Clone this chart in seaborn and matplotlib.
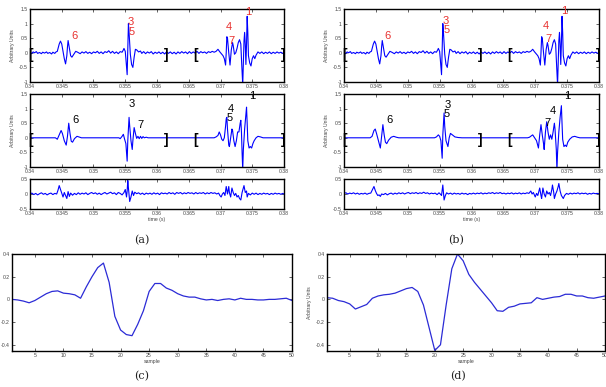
import numpy as np
import pandas as pd
import matplotlib
matplotlib.use("Agg")
import matplotlib.pyplot as plt
import seaborn as sns

# --------------------------
# data
# --------------------------
# measured signal (top row, same in (a) and (b))
measured = [
    (0.3400, 0.02), (0.3402, -0.03), (0.3405, 0.03), (0.3407, 0.00), (0.3410, 0.04),
    (0.3412, -0.02), (0.3415, 0.01), (0.3418, -0.03), (0.3420, 0.02), (0.3423, -0.01),
    (0.3426, 0.03), (0.3428, -0.02), (0.3431, 0.01), (0.3434, -0.04), (0.3436, 0.02),
    (0.3439, -0.02), (0.3441, 0.03), (0.3443, 0.05), (0.3446, 0.30), (0.3448, 0.40),
    (0.3450, 0.30), (0.3452, 0.05), (0.3454, -0.20), (0.3456, -0.38), (0.3458, -0.10),
    (0.3459, 0.20), (0.3460, 0.42), (0.3462, 0.15), (0.3464, -0.10), (0.3466, -0.15),
    (0.3469, -0.05), (0.3472, 0.05), (0.3475, 0.02), (0.3479, -0.03), (0.3482, 0.03),
    (0.3485, -0.01), (0.3488, 0.04), (0.3491, -0.02), (0.3494, 0.02), (0.3497, -0.03),
    (0.3500, 0.03), (0.3503, 0.00), (0.3506, 0.05), (0.3509, -0.02), (0.3512, 0.03),
    (0.3515, -0.03), (0.3518, 0.04), (0.3521, 0.01), (0.3524, 0.07), (0.3527, -0.01),
    (0.3530, 0.05), (0.3533, -0.02), (0.3536, 0.03), (0.3539, -0.03), (0.3542, 0.04),
    (0.3545, 0.02), (0.3547, 0.10), (0.3548, 0.15), (0.3550, 0.05), (0.3551, -0.20),
    (0.3553, -0.75), (0.3554, 0.10), (0.3555, 1.00), (0.3556, 0.70), (0.3558, -0.05),
    (0.3560, -0.40), (0.3562, -0.50), (0.3564, -0.15), (0.3566, 0.12), (0.3568, 0.10),
    (0.3571, 0.03), (0.3574, 0.06), (0.3576, -0.02), (0.3579, 0.04), (0.3582, -0.03),
    (0.3585, 0.03), (0.3588, -0.01), (0.3591, 0.04), (0.3594, -0.04), (0.3597, 0.02),
    (0.3600, -0.02), (0.3603, 0.03), (0.3606, -0.03), (0.3609, 0.02), (0.3612, -0.04),
    (0.3615, 0.03), (0.3618, -0.02), (0.3621, 0.03), (0.3624, -0.03), (0.3627, 0.02),
    (0.3630, -0.04), (0.3633, 0.03), (0.3636, -0.02), (0.3639, 0.04), (0.3642, -0.01),
    (0.3645, 0.03), (0.3648, -0.03), (0.3651, 0.04), (0.3654, -0.02), (0.3657, 0.03),
    (0.3660, -0.01), (0.3663, 0.05), (0.3666, -0.02), (0.3669, 0.04), (0.3672, 0.00),
    (0.3675, 0.03), (0.3678, -0.02), (0.3681, 0.04), (0.3684, 0.01), (0.3687, 0.05),
    (0.3690, 0.02), (0.3693, 0.05), (0.3696, 0.12), (0.3699, 0.03), (0.3702, -0.05),
    (0.3704, -0.10), (0.3706, -0.20), (0.3708, -0.42), (0.3709, 0.00), (0.3710, 0.55),
    (0.3711, 0.50), (0.3713, 0.00), (0.3715, -0.42), (0.3717, 0.10), (0.3719, 0.35),
    (0.3720, 0.25), (0.3722, -0.05), (0.3724, 0.00), (0.3726, 0.15), (0.3728, 0.35),
    (0.3730, 0.45), (0.3732, 0.30), (0.3733, -0.20), (0.3735, -1.10), (0.3736, -0.30),
    (0.3737, 0.40), (0.3738, 0.70), (0.3739, 0.30), (0.3740, -0.40), (0.3741, 0.30),
    (0.3742, 1.25), (0.3743, 0.70), (0.3744, -0.10), (0.3746, -0.35), (0.3748, -0.45),
    (0.3750, -0.20), (0.3752, -0.10), (0.3754, -0.20), (0.3756, -0.08), (0.3759, 0.03),
    (0.3762, -0.02), (0.3765, 0.03), (0.3768, -0.03), (0.3771, 0.02), (0.3774, -0.02),
    (0.3777, 0.03), (0.3780, -0.03), (0.3783, 0.02), (0.3786, -0.02), (0.3789, 0.03),
    (0.3792, -0.01), (0.3795, 0.02), (0.3798, -0.02), (0.3800, 0.01),
]

# model signal, panel (a)
model_a = [
    (0.3400, 0.00), (0.3440, 0.00), (0.3443, -0.05), (0.3446, 0.10), (0.3449, 0.25),
    (0.3451, 0.15), (0.3454, -0.10), (0.3457, -0.25), (0.3459, 0.05), (0.3461, 0.50),
    (0.3463, 0.15), (0.3465, -0.12), (0.3467, -0.15), (0.3470, -0.03), (0.3474, 0.05),
    (0.3477, 0.03), (0.3481, 0.00), (0.3540, 0.00), (0.3542, -0.03), (0.3545, 0.05),
    (0.3547, 0.12), (0.3549, -0.05), (0.3551, -0.20), (0.3553, -0.80), (0.3554, -0.10),
    (0.3556, 0.70), (0.3557, 0.40), (0.3559, -0.10), (0.3561, -0.40), (0.3562, -0.10),
    (0.3564, 0.35), (0.3566, 0.15), (0.3568, -0.02), (0.3570, 0.05), (0.3572, -0.03),
    (0.3574, 0.05), (0.3576, -0.02), (0.3578, 0.04), (0.3580, 0.00), (0.3583, 0.02),
    (0.3586, 0.00), (0.3690, 0.00), (0.3693, 0.03), (0.3696, 0.08), (0.3698, 0.20),
    (0.3700, 0.10), (0.3702, -0.05), (0.3704, -0.10), (0.3706, 0.00), (0.3708, 0.40),
    (0.3709, 0.65), (0.3710, 0.70), (0.3711, 0.30), (0.3713, -0.25), (0.3714, -0.30),
    (0.3716, 0.00), (0.3718, 0.30), (0.3719, 0.25), (0.3721, -0.10), (0.3723, -0.30),
    (0.3725, -0.10), (0.3727, 0.20), (0.3729, 0.20), (0.3731, 0.50), (0.3732, 0.60),
    (0.3733, 0.20), (0.3734, -0.50), (0.3735, -1.10), (0.3736, -0.40), (0.3738, 0.30),
    (0.3740, 0.80), (0.3741, 1.05), (0.3742, 0.50), (0.3743, -0.10), (0.3745, -0.35),
    (0.3747, -0.30), (0.3749, -0.35), (0.3751, -0.20), (0.3753, -0.10), (0.3756, 0.00),
    (0.3759, 0.05), (0.3763, 0.03), (0.3767, 0.00), (0.3800, 0.00),
]

# model signal, panel (b)
model_b = [
    (0.3400, 0.00), (0.3441, 0.00), (0.3444, 0.05), (0.3447, 0.25), (0.3449, 0.30),
    (0.3451, 0.15), (0.3454, -0.10), (0.3457, -0.35), (0.3459, 0.05), (0.3461, 0.45),
    (0.3463, 0.10), (0.3465, -0.15), (0.3467, -0.20), (0.3470, -0.08), (0.3474, 0.02),
    (0.3478, 0.05), (0.3482, 0.02), (0.3486, 0.00), (0.3542, 0.00), (0.3545, 0.03),
    (0.3548, 0.10), (0.3550, 0.05), (0.3552, -0.10), (0.3554, -0.70), (0.3555, 0.10),
    (0.3557, 0.85), (0.3558, 0.40), (0.3560, -0.10), (0.3563, -0.30), (0.3565, 0.00),
    (0.3567, 0.15), (0.3570, 0.10), (0.3574, 0.03), (0.3579, 0.01), (0.3585, 0.00),
    (0.3688, 0.00), (0.3691, 0.02), (0.3694, 0.07), (0.3696, 0.10), (0.3699, 0.00),
    (0.3702, -0.10), (0.3705, -0.35), (0.3707, 0.10), (0.3709, 0.45), (0.3711, 0.10),
    (0.3713, -0.20), (0.3714, -0.40), (0.3716, 0.20), (0.3718, 0.55), (0.3720, 0.20),
    (0.3722, -0.05), (0.3724, 0.10), (0.3726, -0.05), (0.3728, 0.20), (0.3730, 0.50),
    (0.3731, 0.30), (0.3733, -0.40), (0.3734, -1.10), (0.3735, -0.50), (0.3737, 0.20),
    (0.3739, 0.70), (0.3741, 1.10), (0.3742, 0.50), (0.3743, -0.05), (0.3745, -0.30),
    (0.3747, -0.25), (0.3749, -0.30), (0.3751, -0.15), (0.3754, -0.05), (0.3758, 0.03),
    (0.3762, 0.05), (0.3766, 0.02), (0.3770, 0.00), (0.3800, 0.00),
]

# residual, panel (a)
resid_a = [
    (0.3400, 0.00), (0.3403, 0.03), (0.3406, -0.02), (0.3409, 0.02), (0.3412, -0.03),
    (0.3415, 0.01), (0.3418, 0.04), (0.3421, -0.01), (0.3424, 0.02), (0.3427, -0.03),
    (0.3430, 0.01), (0.3433, 0.03), (0.3436, -0.02), (0.3439, 0.02), (0.3442, 0.00),
    (0.3444, 0.12), (0.3446, 0.28), (0.3448, 0.15), (0.3450, 0.02), (0.3452, -0.10),
    (0.3454, 0.05), (0.3456, -0.05), (0.3458, -0.15), (0.3460, 0.08), (0.3462, -0.08),
    (0.3464, 0.03), (0.3467, -0.04), (0.3470, 0.02), (0.3473, -0.02), (0.3476, 0.04),
    (0.3479, -0.01), (0.3482, 0.03), (0.3485, 0.00), (0.3488, 0.04), (0.3491, -0.02),
    (0.3494, 0.02), (0.3497, 0.05), (0.3500, 0.01), (0.3503, 0.04), (0.3506, -0.01),
    (0.3509, 0.03), (0.3512, -0.02), (0.3515, 0.02), (0.3518, 0.05), (0.3521, 0.00),
    (0.3524, 0.03), (0.3527, 0.06), (0.3530, 0.01), (0.3533, 0.04), (0.3536, -0.02),
    (0.3539, 0.05), (0.3542, 0.02), (0.3545, -0.03), (0.3548, 0.05), (0.3550, 0.15),
    (0.3552, -0.10), (0.3553, 0.10), (0.3554, 0.45), (0.3555, 0.20), (0.3557, -0.25),
    (0.3559, -0.10), (0.3561, 0.10), (0.3563, -0.05), (0.3565, 0.06), (0.3568, 0.01),
    (0.3571, 0.04), (0.3574, -0.01), (0.3577, 0.03), (0.3580, -0.02), (0.3583, 0.03),
    (0.3586, 0.00), (0.3589, 0.03), (0.3592, -0.01), (0.3595, 0.04), (0.3598, 0.00),
    (0.3601, 0.03), (0.3604, -0.02), (0.3607, 0.04), (0.3610, 0.01), (0.3613, 0.03),
    (0.3616, 0.00), (0.3619, 0.05), (0.3622, 0.01), (0.3625, 0.04), (0.3628, -0.01),
    (0.3631, 0.05), (0.3634, 0.02), (0.3637, 0.05), (0.3640, 0.00), (0.3643, 0.04),
    (0.3646, 0.01), (0.3649, 0.05), (0.3652, 0.02), (0.3655, 0.04), (0.3658, 0.00),
    (0.3661, 0.05), (0.3664, 0.01), (0.3667, 0.04), (0.3670, 0.02), (0.3673, 0.05),
    (0.3676, 0.00), (0.3679, 0.04), (0.3682, 0.01), (0.3685, 0.05), (0.3688, 0.02),
    (0.3691, 0.04), (0.3694, 0.00), (0.3697, 0.03), (0.3699, -0.05), (0.3701, -0.10),
    (0.3703, 0.00), (0.3705, 0.05), (0.3707, -0.05), (0.3709, 0.25), (0.3711, 0.00),
    (0.3713, 0.25), (0.3714, 0.05), (0.3716, -0.10), (0.3718, 0.20), (0.3720, 0.05),
    (0.3722, -0.05), (0.3724, 0.02), (0.3726, -0.10), (0.3728, -0.05), (0.3730, -0.15),
    (0.3732, -0.20), (0.3734, 0.05), (0.3736, 0.20), (0.3737, 0.28), (0.3739, 0.05),
    (0.3741, 0.10), (0.3742, -0.10), (0.3744, 0.02), (0.3747, -0.03), (0.3750, 0.03),
    (0.3753, -0.01), (0.3756, 0.03), (0.3759, -0.02), (0.3762, 0.02), (0.3765, -0.01),
    (0.3768, 0.03), (0.3771, 0.00), (0.3774, 0.02), (0.3777, -0.02), (0.3780, 0.02),
    (0.3783, -0.01), (0.3786, 0.03), (0.3789, 0.00), (0.3792, 0.02), (0.3795, -0.01),
    (0.3798, 0.02), (0.3800, 0.00),
]

# residual, panel (b)
resid_b = [
    (0.3400, 0.02), (0.3403, 0.04), (0.3406, 0.00), (0.3409, 0.03), (0.3412, 0.01),
    (0.3415, 0.04), (0.3418, 0.00), (0.3421, 0.03), (0.3424, -0.01), (0.3427, 0.02),
    (0.3430, 0.00), (0.3433, 0.03), (0.3436, -0.01), (0.3439, 0.02), (0.3442, 0.03),
    (0.3444, 0.12), (0.3447, 0.25), (0.3449, 0.12), (0.3451, 0.02), (0.3453, -0.05),
    (0.3455, -0.03), (0.3457, -0.08), (0.3459, 0.00), (0.3462, -0.02), (0.3465, 0.02),
    (0.3468, -0.03), (0.3471, 0.01), (0.3474, 0.03), (0.3477, -0.01), (0.3480, 0.03),
    (0.3483, 0.00), (0.3486, 0.04), (0.3489, 0.01), (0.3492, 0.04), (0.3495, 0.00),
    (0.3498, 0.03), (0.3501, 0.05), (0.3504, 0.01), (0.3507, 0.04), (0.3510, 0.02),
    (0.3513, 0.05), (0.3516, 0.01), (0.3519, 0.04), (0.3522, 0.02), (0.3525, 0.06),
    (0.3528, 0.02), (0.3531, 0.04), (0.3534, 0.00), (0.3537, 0.03), (0.3540, 0.01),
    (0.3543, 0.03), (0.3546, -0.02), (0.3549, 0.04), (0.3551, 0.00), (0.3553, -0.05),
    (0.3555, 0.30), (0.3556, 0.05), (0.3557, -0.20), (0.3559, -0.05), (0.3561, 0.04),
    (0.3564, 0.00), (0.3567, 0.03), (0.3570, -0.01), (0.3573, 0.03), (0.3576, 0.00),
    (0.3579, 0.02), (0.3582, -0.01), (0.3585, 0.03), (0.3588, 0.00), (0.3591, 0.02),
    (0.3594, -0.02), (0.3597, 0.02), (0.3600, 0.00), (0.3603, 0.03), (0.3606, 0.00),
    (0.3609, 0.03), (0.3612, 0.01), (0.3615, 0.04), (0.3618, 0.00), (0.3621, 0.03),
    (0.3624, 0.01), (0.3627, 0.04), (0.3630, 0.02), (0.3633, 0.05), (0.3636, 0.01),
    (0.3639, 0.04), (0.3642, 0.02), (0.3645, 0.05), (0.3648, 0.01), (0.3651, 0.03),
    (0.3654, 0.00), (0.3657, 0.03), (0.3660, 0.01), (0.3663, 0.04), (0.3666, 0.00),
    (0.3669, 0.03), (0.3672, 0.01), (0.3675, 0.04), (0.3678, 0.00), (0.3681, 0.03),
    (0.3684, 0.01), (0.3687, 0.04), (0.3690, 0.02), (0.3693, 0.10), (0.3695, 0.00),
    (0.3697, 0.05), (0.3700, -0.10), (0.3702, 0.02), (0.3704, -0.05), (0.3707, 0.20),
    (0.3709, -0.05), (0.3710, -0.15), (0.3712, 0.20), (0.3714, 0.00), (0.3716, -0.10),
    (0.3718, 0.10), (0.3720, 0.00), (0.3722, 0.05), (0.3724, -0.05), (0.3726, 0.15),
    (0.3727, 0.30), (0.3729, 0.05), (0.3730, -0.15), (0.3732, 0.00), (0.3734, 0.10),
    (0.3736, 0.25), (0.3737, 0.35), (0.3739, 0.10), (0.3741, -0.05), (0.3744, -0.15),
    (0.3746, -0.05), (0.3749, 0.02), (0.3752, -0.01), (0.3755, 0.03), (0.3758, 0.00),
    (0.3761, 0.03), (0.3764, 0.01), (0.3767, 0.04), (0.3770, 0.00), (0.3773, 0.03),
    (0.3776, 0.01), (0.3779, 0.03), (0.3782, -0.01), (0.3785, 0.02), (0.3788, 0.00),
    (0.3791, 0.03), (0.3794, 0.01), (0.3797, 0.02), (0.3800, 0.01),
]

# waveform templates (c) and (d), one value per sample 1..50
samples = list(range(1, 51))
wave_c = [0.000, -0.005, -0.015, -0.030, -0.010, 0.020, 0.050, 0.070, 0.075, 0.055,
          0.050, 0.040, 0.010, 0.110, 0.200, 0.280, 0.320, 0.150, -0.150, -0.270,
          -0.310, -0.320, -0.220, -0.100, 0.070, 0.140, 0.140, 0.100, 0.080, 0.050,
          0.030, 0.020, 0.020, 0.005, -0.005, 0.000, -0.010, 0.000, 0.005, -0.005,
          0.010, 0.000, 0.000, -0.005, -0.005, 0.000, 0.000, 0.005, 0.010, -0.010]
wave_d = [0.015, 0.010, -0.010, -0.020, -0.040, -0.085, -0.065, -0.045, 0.010, 0.030,
          0.040, 0.045, 0.055, 0.075, 0.095, 0.105, 0.070, -0.050, -0.250, -0.450,
          -0.400, -0.050, 0.270, 0.400, 0.340, 0.220, 0.150, 0.090, 0.030, -0.030,
          -0.100, -0.105, -0.070, -0.060, -0.040, -0.035, -0.030, 0.015, 0.000, 0.010,
          0.020, 0.025, 0.045, 0.045, 0.030, 0.030, 0.015, 0.010, 0.020, 0.030]

# peak labels (text, time, height)
labels_a_top = [("6", 0.3465, 0.42), ("3", 0.3554, 0.88), ("5", 0.3556, 0.55),
                ("4", 0.3709, 0.70), ("7", 0.3712, 0.25), ("1", 0.3739, 1.22)]
labels_a_mid = [("6", 0.3467, 0.45), ("3", 0.3555, 0.98), ("7", 0.3569, 0.28),
                ("4", 0.3712, 0.82), ("5", 0.3709, 0.50), ("1", 0.3745, 1.25)]
labels_b_top = [("6", 0.3464, 0.42), ("3", 0.3555, 0.92), ("5", 0.3557, 0.60),
                ("4", 0.3712, 0.75), ("7", 0.3716, 0.30), ("1", 0.3740, 1.25)]
labels_b_mid = [("6", 0.3466, 0.45), ("3", 0.3557, 0.95), ("5", 0.3556, 0.65),
                ("4", 0.3722, 0.75), ("7", 0.3714, 0.35), ("1", 0.3745, 1.25)]
brackets = [("[", 0.3401), ("]", 0.3614), ("[", 0.3660), ("]", 0.3799)]

time_ticks = [0.34, 0.345, 0.35, 0.355, 0.36, 0.365, 0.37, 0.375, 0.38]
time_ticklabels = ["0.34", "0.345", "0.35", "0.355", "0.36", "0.365", "0.37", "0.375", "0.38"]
amp_ticks = [-1, -0.5, 0, 0.5, 1, 1.5]
amp_ticklabels = ["-1", "-0.5", "0", "0.5", "1", "1.5"]
res_ticks = [-0.5, 0, 0.5]
res_ticklabels = ["-0.5", "0", "0.5"]
sample_ticks = [5, 10, 15, 20, 25, 30, 35, 40, 45, 50]
wave_ticks = [-0.4, -0.2, 0, 0.2, 0.4]
wave_ticklabels = ["-0.4", "-0.2", "0", "0.2", "0.4"]

# --------------------------
# style
# --------------------------
sns.set_style("ticks")
plt.rcParams["font.family"] = ["Liberation Sans", "DejaVu Sans"]
TICK_COLOR = "#444444"
SMALL = 3.7
W, H = 606, 387
fig = plt.figure(figsize=(W / 100, H / 100), dpi=100)


def box(x0, y0, x1, y1):
    return [x0 / W, 1 - y1 / H, (x1 - x0) / W, (y1 - y0) / H]


def style_axes(ax):
    for s in ax.spines.values():
        s.set_linewidth(1.0)
        s.set_color("black")
    ax.tick_params(direction="in", length=2, width=0.5, labelsize=SMALL,
                   labelcolor=TICK_COLOR, pad=1.5, top=True, right=True)
    ax.set_xlabel("")
    ax.set_ylabel("")


def draw_trace(ax, rows, ylim, yticks, yticklabels, ylabel=None, xlabel=None):
    df = pd.DataFrame(rows, columns=["time", "value"])
    sns.lineplot(data=df, x="time", y="value", ax=ax, color="blue",
                 linewidth=0.8, estimator=None, sort=False)
    style_axes(ax)
    ax.set_xlim(0.34, 0.38)
    ax.set_ylim(*ylim)
    ax.set_xticks(time_ticks)
    ax.set_xticklabels(time_ticklabels)
    ax.set_yticks(yticks)
    ax.set_yticklabels(yticklabels)
    if ylabel:
        ax.set_ylabel(ylabel, fontsize=SMALL, color=TICK_COLOR, labelpad=3)
    if xlabel:
        ax.set_xlabel(xlabel, fontsize=SMALL, color=TICK_COLOR, labelpad=1)


def add_marks(ax, labels, color):
    for txt, t, v in labels:
        ax.text(t, v, txt, color=color, fontsize=8, ha="left", va="bottom")
    for b, t in brackets:
        ax.text(t, -0.07, b, color="black", fontsize=10, fontweight="bold",
                ha="center", va="center", clip_on=False)


# --------------------------
# panels (a) and (b)
# --------------------------
for x0, x1, mdl, res, lab_top, lab_mid in [
        (30, 284, model_a, resid_a, labels_a_top, labels_a_mid),
        (344, 599, model_b, resid_b, labels_b_top, labels_b_mid)]:
    ax1 = fig.add_axes(box(x0, 9, x1, 82))
    draw_trace(ax1, measured, (-1, 1.5), amp_ticks, amp_ticklabels, ylabel="Arbitrary Units")
    add_marks(ax1, lab_top, "#e8312f")

    ax2 = fig.add_axes(box(x0, 94, x1, 167))
    draw_trace(ax2, mdl, (-1, 1.5), amp_ticks, amp_ticklabels, ylabel="Arbitrary Units")
    add_marks(ax2, lab_mid, "black")

    ax3 = fig.add_axes(box(x0, 179, x1, 209))
    draw_trace(ax3, res, (-0.5, 0.5), res_ticks, res_ticklabels, xlabel="time (s)")

# --------------------------
# panels (c) and (d)
# --------------------------
for x0, x1, wave, ylabel in [(12, 292, wave_c, None), (327, 605, wave_d, "Arbitrary Units")]:
    ax = fig.add_axes(box(x0, 254, x1, 351))
    df = pd.DataFrame({"sample": samples, "value": wave})
    sns.lineplot(data=df, x="sample", y="value", ax=ax, color="#2b2bd6",
                 linewidth=0.9, estimator=None)
    style_axes(ax)
    ax.set_xlim(1, 50)
    ax.set_ylim(-0.455, 0.4)
    ax.set_xticks(sample_ticks)
    ax.set_yticks(wave_ticks)
    ax.set_yticklabels(wave_ticklabels)
    ax.set_xlabel("sample", fontsize=SMALL, color=TICK_COLOR, labelpad=1)
    if ylabel:
        ax.set_ylabel(ylabel, fontsize=SMALL, color=TICK_COLOR, labelpad=3)

# captions
for txt, x, y in [("(a)", 142, 240), ("(b)", 456, 240), ("(c)", 142, 376), ("(d)", 458, 376)]:
    fig.text(x / W, 1 - y / H, txt, fontsize=8, family=["DejaVu Serif"],
             ha="center", va="center", color="#222222")

plt.savefig("out.png", dpi=100)
